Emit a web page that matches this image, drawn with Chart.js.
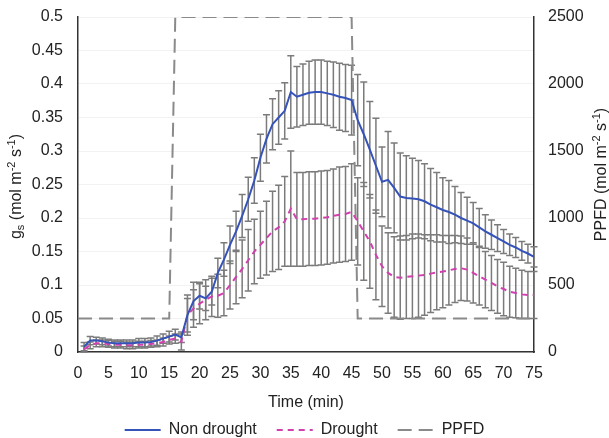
<!DOCTYPE html>
<html>
<head>
<meta charset="utf-8">
<script src="https://cdn.jsdelivr.net/npm/chart.js@4.4.0/dist/chart.umd.min.js"></script>
<style>
  html, body { margin: 0; padding: 0; background: #fff; }
</style>
</head>
<body>
<canvas id="chart" width="609" height="438"></canvas>
<script>
// time axis (min)
var minutes = [1,2,3,4,5,6,7,8,9,10,11,12,13,14,15,16,17,18,19,20,21,22,23,24,25,
               26,27,28,29,30,31,32,33,34,35,36,37,38,39,40,41,42,43,44,45,46,47,48,49,50,
               51,52,53,54,55,56,57,58,59,60,61,62,63,64,65,66,67,68,69,70,71,72,73,74,75];
var ppfdMinutes = [0,1,2,3,4,5,6,7,8,9,10,11,12,13,14,15,16,17,18,19,20,21,22,23,24,25,
               26,27,28,29,30,31,32,33,34,35,36,37,38,39,40,41,42,43,44,45,46,47,48,49,50,
               51,52,53,54,55,56,57,58,59,60,61,62,63,64,65,66,67,68,69,70,71,72,73,74,75];

// gs, mol m-2 s-1
var nonDrought = [0.008,0.017,0.017,0.016,0.014,0.013,0.013,0.013,0.013,0.014,
                  0.014,0.015,0.017,0.020,0.023,0.026,0.022,0.055,0.076,0.084,
                  0.080,0.090,0.118,0.138,0.160,0.180,0.203,0.228,0.256,0.290,
                  0.318,0.340,0.350,0.360,0.388,0.381,0.384,0.387,0.388,0.388,
                  0.386,0.384,0.381,0.379,0.376,0.346,0.325,0.302,0.278,0.254,
                  0.257,0.245,0.232,0.230,0.229,0.228,0.225,0.220,0.216,0.212,
                  0.209,0.205,0.200,0.196,0.192,0.186,0.180,0.175,0.170,0.165,
                  0.160,0.156,0.151,0.147,0.142];
var nonDroughtErr = [0.006,0.006,0.005,0.005,0.005,0.005,0.005,0.005,0.005,0.006,
                  0.006,0.006,0.007,0.007,0.008,0.008,0.008,0.030,0.028,0.020,
                  0.018,0.020,0.022,0.025,0.028,0.030,0.032,0.033,0.034,0.035,
                  0.036,0.038,0.040,0.042,0.054,0.045,0.046,0.047,0.048,0.048,
                  0.048,0.049,0.050,0.050,0.052,0.068,0.078,0.072,0.071,0.052,
                  0.072,0.067,0.065,0.063,0.060,0.058,0.056,0.054,0.052,0.048,
                  0.047,0.042,0.038,0.035,0.031,0.028,0.025,0.022,0.020,0.018,
                  0.016,0.015,0.014,0.014,0.015];
var drought = [0.004,0.010,0.013,0.013,0.012,0.011,0.011,0.010,0.010,0.011,
               0.011,0.012,0.013,0.015,0.018,0.020,0.015,0.055,0.065,0.072,
               0.078,0.083,0.084,0.088,0.100,0.112,0.124,0.137,0.150,0.160,
               0.170,0.180,0.186,0.195,0.214,0.198,0.198,0.199,0.199,0.200,
               0.201,0.203,0.205,0.206,0.209,0.195,0.180,0.165,0.145,0.128,
               0.118,0.112,0.111,0.112,0.113,0.114,0.115,0.117,0.119,0.120,
               0.122,0.124,0.125,0.123,0.118,0.113,0.108,0.103,0.098,0.094,
               0.090,0.088,0.086,0.085,0.085];
var droughtErr = [0.005,0.005,0.005,0.005,0.005,0.005,0.005,0.005,0.005,0.005,
               0.005,0.005,0.005,0.006,0.006,0.007,0.012,0.025,0.028,0.030,
               0.030,0.030,0.032,0.034,0.036,0.040,0.043,0.046,0.048,0.050,
               0.055,0.060,0.063,0.067,0.086,0.070,0.070,0.070,0.070,0.070,
               0.070,0.070,0.071,0.071,0.072,0.065,0.073,0.070,0.067,0.060,
               0.060,0.060,0.062,0.062,0.063,0.062,0.060,0.058,0.056,0.054,
               0.052,0.050,0.048,0.047,0.045,0.043,0.042,0.041,0.040,0.040,
               0.038,0.037,0.036,0.035,0.035];

// PPFD, mol m-2 s-1 (right axis)
var ppfd = [250,250,250,250,250,250,250,250,250,250,250,250,250,250,250,250,
            2500,2500,2500,2500,2500,2500,2500,2500,2500,2500,2500,2500,2500,2500,2500,
            2500,2500,2500,2500,2500,2500,2500,2500,2500,2500,2500,2500,2500,2500,2500,
            250,250,250,250,250,250,250,250,250,250,250,250,250,250,250,
            250,250,250,250,250,250,250,250,250,250,250,250,250,250,250];

var timeTicks = [0,5,10,15,20,25,30,35,40,45,50,55,60,65,70,75];
var gsTicks = [0,0.05,0.1,0.15,0.2,0.25,0.3,0.35,0.4,0.45,0.5];
var ppfdTicks = [0,500,1000,1500,2000,2500];

var textColor = '#222';
var axisColor = '#333';

function toPoints(xs, ys) {
    return xs.map(function(x, i) { return {x: x, y: ys[i]}; });
}

function setTicks(list) {
    return function(scale) {
        scale.ticks = list.map(function(v) { return {value: v}; });
    };
}

//error bars, drawn under the lines
var errorBars = {
    id: 'errorBars',
    beforeDatasetsDraw: function(chart) {
        var ctx = chart.ctx;
        var xs = chart.scales.x;
        ctx.save();
        ctx.strokeStyle = '#7b7b7b';
        ctx.lineWidth = 1.5;
        chart.data.datasets.forEach(function(ds) {
            if (!ds.errors) return;
            var ys = chart.scales[ds.yAxisID];
            ds.data.forEach(function(p, i) {
                var e = ds.errors[i];
                var px = xs.getPixelForValue(p.x);
                var top = ys.getPixelForValue(p.y + e);
                var bot = ys.getPixelForValue(Math.max(p.y - e, 0));
                ctx.beginPath();
                ctx.moveTo(px, top); ctx.lineTo(px, bot);
                ctx.moveTo(px - 3.5, top); ctx.lineTo(px + 3.5, top);
                ctx.moveTo(px - 3.5, bot); ctx.lineTo(px + 3.5, bot);
                ctx.stroke();
            });
        });
        ctx.restore();
    }
};

//rotated axis titles with sub/superscripts
function drawRich(ctx, parts, cx, cy) {
    var big = '16px "Liberation Sans", Arial, sans-serif';
    var small = '11px "Liberation Sans", Arial, sans-serif';
    var total = 0;
    parts.forEach(function(p) {
        ctx.font = p.s ? small : big;
        p.w = ctx.measureText(p.t).width;
        total += p.w;
    });
    ctx.save();
    ctx.translate(cx, cy);
    ctx.rotate(-Math.PI / 2);
    ctx.fillStyle = textColor;
    ctx.textBaseline = 'middle';
    ctx.textAlign = 'left';
    var x = -total / 2;
    parts.forEach(function(p) {
        ctx.font = p.s ? small : big;
        ctx.fillText(p.t, x, p.s === 'sub' ? 4 : (p.s === 'sup' ? -5 : 0));
        x += p.w;
    });
    ctx.restore();
}

var axisTitles = {
    id: 'axisTitles',
    afterDraw: function(chart) {
        var a = chart.chartArea;
        var mid = (a.top + a.bottom) / 2;
        drawRich(chart.ctx, [{t: 'g'}, {t: 's', s: 'sub'}, {t: ' (mol m'}, {t: '-2', s: 'sup'},
                             {t: ' s'}, {t: '-1', s: 'sup'}, {t: ')'}], a.left - 61, mid + 2);
        drawRich(chart.ctx, [{t: 'PPFD (mol m'}, {t: '-2', s: 'sup'},
                             {t: ' s'}, {t: '-1', s: 'sup'}, {t: ')'}], a.right + 68, mid - 10);
    }
};

var chart = new Chart(document.getElementById('chart'), {
    type: 'line',
    data: {
        datasets: [{
            label: 'Non drought',
            data: toPoints(minutes, nonDrought),
            errors: nonDroughtErr,
            yAxisID: 'y',
            borderColor: '#3553b8',
            backgroundColor: '#3553b8',
            borderWidth: 2,
            pointRadius: 0,
            tension: 0
        }, {
            label: 'Drought',
            data: toPoints(minutes, drought),
            errors: droughtErr,
            yAxisID: 'y',
            borderColor: '#d23fae',
            backgroundColor: '#d23fae',
            borderWidth: 2,
            borderDash: [6, 5],
            pointRadius: 0,
            tension: 0
        }, {
            label: 'PPFD',
            data: toPoints(ppfdMinutes, ppfd),
            yAxisID: 'y1',
            borderColor: '#8a8a8a',
            backgroundColor: '#8a8a8a',
            borderWidth: 2,
            borderDash: [14, 7],
            pointRadius: 0,
            tension: 0
        }]
    },
    options: {
        responsive: false,
        animation: false,
        layout: { padding: { top: 17, left: 0, right: 0, bottom: 0 } },
        scales: {
            x: {
                type: 'linear', min: 0, max: 75,
                afterBuildTicks: setTicks(timeTicks),
                afterFit: function(s) { s.height = 50; },
                grid: { display: false, drawTicks: false },
                border: { display: true, color: axisColor, width: 1.5 },
                ticks: { font: { size: 16 }, color: textColor, padding: 12, maxRotation: 0, autoSkip: false },
                title: { display: true, text: 'Time (min)', font: { size: 16 }, color: textColor,
                         padding: { top: 0, bottom: -10 } }
            },
            y: {
                position: 'left', min: 0, max: 0.5,
                afterBuildTicks: setTicks(gsTicks),
                afterFit: function(s) { s.width = 78; },
                grid: { color: 'rgba(0,0,0,0.05)', drawTicks: false },
                border: { display: true, color: axisColor, width: 1.5 },
                // small lineHeight keeps the label padding from pushing the plot down
                ticks: { font: { size: 16, lineHeight: 0.2 }, color: textColor, padding: 15,
                         callback: function(v) { return String(v); } }
            },
            y1: {
                position: 'right', min: 0, max: 2500,
                afterBuildTicks: setTicks(ppfdTicks),
                afterFit: function(s) { s.width = 75; },
                grid: { display: false, drawTicks: false },
                border: { display: true, color: axisColor, width: 1.5 },
                ticks: { font: { size: 16, lineHeight: 0.2 }, color: textColor, padding: 14,
                         callback: function(v) { return String(v); } }
            }
        },
        plugins: {
            legend: {
                position: 'bottom',
                maxHeight: 36,
                labels: {
                    usePointStyle: true,
                    pointStyle: 'line',
                    pointStyleWidth: 36,
                    font: { size: 16 },
                    color: textColor,
                    padding: 20,
                    generateLabels: function(chart) {
                        var items = Chart.defaults.plugins.legend.labels.generateLabels(chart);
                        items.forEach(function(it) {
                            var ds = chart.data.datasets[it.datasetIndex];
                            it.lineDash = ds.borderDash || [];
                            it.strokeStyle = ds.borderColor;
                            it.lineWidth = 2;
                        });
                        return items;
                    }
                }
            },
            tooltip: { enabled: false }
        }
    },
    plugins: [errorBars, axisTitles]
});
</script>
</body>
</html>
